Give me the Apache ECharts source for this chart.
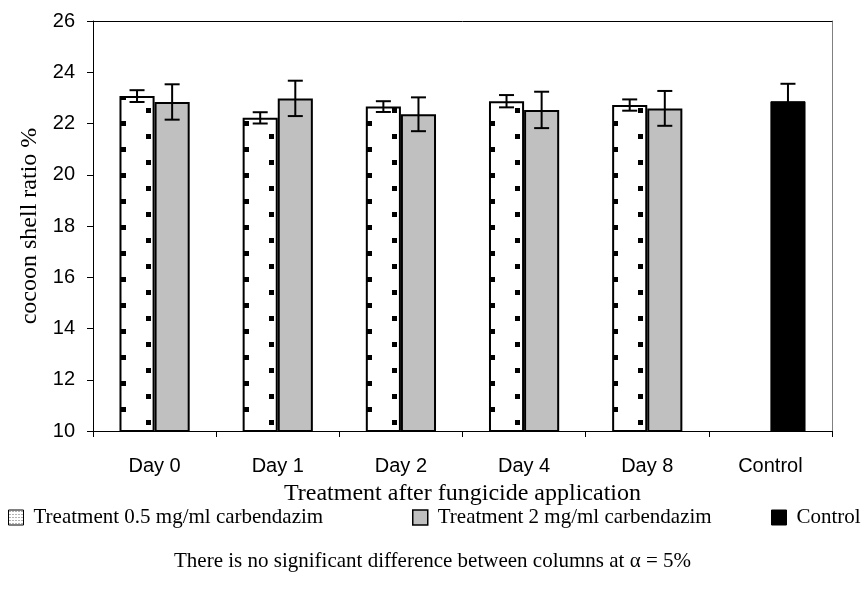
<!DOCTYPE html>
<html>
<head>
<meta charset="utf-8">
<script src="https://cdn.jsdelivr.net/npm/echarts@6/dist/echarts.min.js"></script>
<style>
  html, body { margin: 0; padding: 0; background: #fff; }
  #main { width: 865px; height: 590px; }
</style>
</head>
<body>
<div id="main"></div>
<script>
// data
const categories = ['Day 0', 'Day 1', 'Day 2', 'Day 4', 'Day 8', 'Control'];
const treatLow = [23.07, 22.22, 22.66, 22.87, 22.72, '-'];
const treatLowErr = [0.23, 0.22, 0.21, 0.24, 0.22];
const treatHigh = [22.84, 22.98, 22.36, 22.53, 22.59, '-'];
const treatHighErr = [0.69, 0.69, 0.66, 0.71, 0.68];
const control = ['-', '-', '-', '-', '-', 22.87];
const controlErr = 0.68;
const yTicks = [10, 12, 14, 16, 18, 20, 22, 24, 26];

const nameLow = 'Treatment 0.5 mg/ml carbendazim';
const nameHigh = 'Treatment 2 mg/ml carbendazim';
const nameCtrl = 'Control';

const serif = '"Liberation Serif", "Times New Roman", serif';
const sans = '"Liberation Sans", Arial, sans-serif';

const catGap = 0.43;

// staggered square dots inside the white bars
function barDots() {
    const c = document.createElement('canvas');
    c.width = 123;
    c.height = 26;
    const ctx = c.getContext('2d');
    ctx.fillStyle = '#fff';
    ctx.fillRect(0, 0, c.width, c.height);
    ctx.fillStyle = '#000';
    ctx.fillRect(120, 17, 5, 5);
    ctx.fillRect(0, 17, 3, 5);
    ctx.fillRect(23, 4, 5, 5);
    return c;
}

// fine dots for the legend box
function fineDots() {
    const c = document.createElement('canvas');
    c.width = 3;
    c.height = 3;
    const ctx = c.getContext('2d');
    ctx.fillStyle = '#fff';
    ctx.fillRect(0, 0, 3, 3);
    ctx.fillStyle = '#666';
    ctx.fillRect(1, 1, 1, 1);
    return c;
}

const errLowData = treatLowErr.map((e, i) => [i, treatLow[i], e]);
const errHighData = treatHighErr.map((e, i) => [i, treatHigh[i], e]);
errHighData.push([5, control[5], controlErr]);

// side: -1 left bar, 1 right bar
function errorBar(side) {
    return function (params, api) {
        const x = api.value(0);
        const v = api.value(1);
        const e = api.value(2);
        const catW = api.size([1, 0])[0];
        const barW = catW * (1 - catGap) / 2;
        const top = api.coord([x, v + e]);
        const bot = api.coord([x, v - e]);
        const cx = top[0] + side * barW / 2;
        const half = 7.5;
        const style = { stroke: '#000', lineWidth: 2 };
        return {
            type: 'group',
            children: [
                { type: 'line', shape: { x1: cx, y1: top[1], x2: cx, y2: bot[1] }, style: style },
                { type: 'line', shape: { x1: cx - half, y1: top[1], x2: cx + half, y2: top[1] }, style: style },
                { type: 'line', shape: { x1: cx - half, y1: bot[1], x2: cx + half, y2: bot[1] }, style: style }
            ]
        };
    };
}

const legendText = { fontFamily: serif, fontSize: 21, color: '#000', padding: [0, 0, 0, 5] };

function legendItem(name, style, left) {
    return {
        data: [{ name: name, icon: 'rect', itemStyle: style }],
        left: left,
        top: 507,
        padding: 0,
        itemWidth: 15,
        itemHeight: 15,
        selectedMode: false,
        textStyle: legendText
    };
}

const chart = echarts.init(document.getElementById('main'), null, { renderer: 'canvas' });

chart.setOption({
    animation: false,
    backgroundColor: '#fff',
    grid: { left: 93, right: 33, top: 21, bottom: 159, containLabel: false },
    title: {
        text: 'There is no significant difference between columns at \u03b1 = 5%',
        left: 'center',
        top: 546,
        textStyle: { fontFamily: serif, fontSize: 21, fontWeight: 'normal', color: '#000' }
    },
    legend: [
        legendItem(nameLow, { color: { image: fineDots(), repeat: 'repeat' }, borderColor: '#000', borderWidth: 1 }, 8),
        legendItem(nameHigh, { color: '#c0c0c0', borderColor: '#000', borderWidth: 1.5 }, 412),
        legendItem(nameCtrl, { color: '#000', borderColor: '#000', borderWidth: 1 }, 771)
    ],
    xAxis: [
        {
            type: 'category',
            data: categories,
            name: 'Treatment after fungicide application',
            nameLocation: 'middle',
            nameGap: 51,
            nameTextStyle: { fontFamily: serif, fontSize: 24, color: '#000' },
            axisLine: { lineStyle: { color: '#000', width: 1 } },
            axisTick: { show: true, length: 6, lineStyle: { color: '#000' } },
            axisLabel: { fontFamily: sans, fontSize: 20, color: '#000', margin: 25 },
            splitLine: { show: false }
        },
        {
            type: 'category',
            data: categories,
            position: 'top',
            axisLine: { show: true, lineStyle: { color: '#000', width: 1 } },
            axisTick: { show: false },
            axisLabel: { show: false }
        }
    ],
    yAxis: [
        {
            type: 'value',
            min: yTicks[0],
            max: yTicks[yTicks.length - 1],
            interval: 2,
            name: 'cocoon shell ratio %',
            nameLocation: 'middle',
            nameGap: 43,
            nameTextStyle: { fontFamily: serif, fontSize: 24, color: '#000' },
            axisLine: { show: true, lineStyle: { color: '#000', width: 1 } },
            axisTick: { show: true, length: 6, lineStyle: { color: '#000' } },
            axisLabel: { fontFamily: sans, fontSize: 20, color: '#000', margin: 18 },
            splitLine: { show: false }
        },
        {
            type: 'value',
            min: yTicks[0],
            max: yTicks[yTicks.length - 1],
            interval: 2,
            position: 'right',
            axisLine: { show: true, lineStyle: { color: '#808080', width: 1 } },
            axisTick: { show: false },
            axisLabel: { show: false },
            splitLine: { show: false }
        }
    ],
    series: [
        {
            name: nameLow,
            type: 'bar',
            data: treatLow,
            barGap: 0,
            barCategoryGap: (catGap * 100) + '%',
            itemStyle: { color: { image: barDots(), repeat: 'repeat' }, borderColor: '#000', borderWidth: 2 }
        },
        {
            name: nameHigh,
            type: 'bar',
            stack: 'g',
            data: treatHigh,
            itemStyle: { color: '#c0c0c0', borderColor: '#000', borderWidth: 2 }
        },
        {
            name: nameCtrl,
            type: 'bar',
            stack: 'g',
            data: control,
            itemStyle: { color: '#000', borderColor: '#000', borderWidth: 1 }
        },
        {
            type: 'custom',
            data: errLowData,
            renderItem: errorBar(-1),
            z: 5,
            silent: true
        },
        {
            type: 'custom',
            data: errHighData,
            renderItem: errorBar(1),
            z: 5,
            silent: true
        }
    ]
});
</script>
</body>
</html>
